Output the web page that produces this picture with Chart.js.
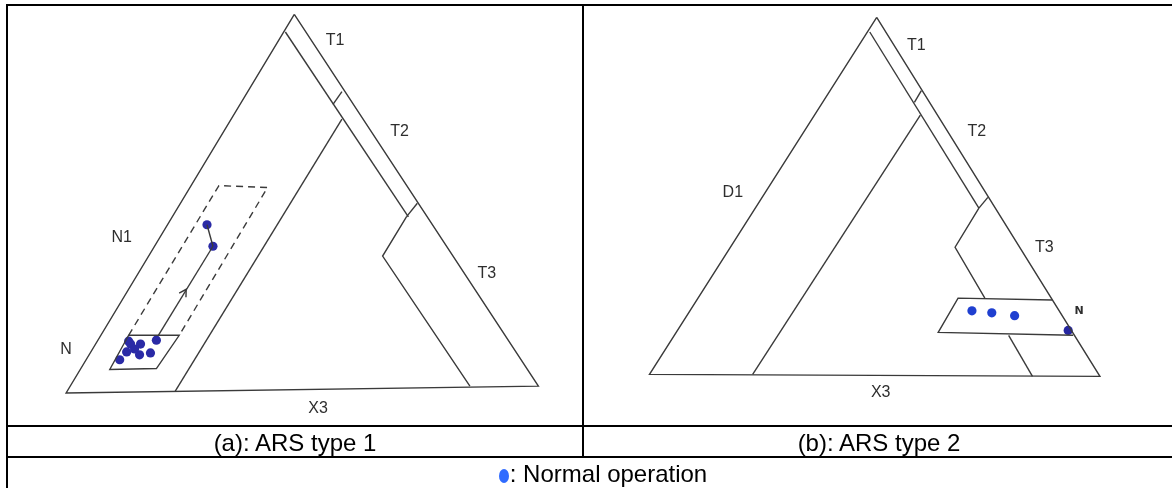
<!DOCTYPE html>
<html>
<head>
<meta charset="utf-8">
<script src="https://cdn.jsdelivr.net/npm/chart.js@4.4.1/dist/chart.umd.min.js"></script>
<style>
  body { margin: 0; background: #fff; }
  #sheet { position: relative; width: 1172px; height: 488px; overflow: hidden; background: #fff; }
  #diagram { position: absolute; left: 0; top: 0; }
  .rule { position: absolute; background: #000; }
  .cell { position: absolute; text-align: center; font-family: "Liberation Sans", Arial, sans-serif; font-size: 24px; line-height: 32px; color: #000; white-space: nowrap; }
  .dot { display: inline-block; width: 10px; height: 14px; border-radius: 50%; background: #2f6bff; vertical-align: -1px; margin-right: 1px; }
</style>
</head>
<body>
<div id="sheet">
  <canvas id="diagram" width="1172" height="425"></canvas>

  <div class="rule" style="left:6px;top:4px;width:1166px;height:2px"></div>
  <div class="rule" style="left:6px;top:4px;width:2px;height:484px"></div>
  <div class="rule" style="left:582px;top:4px;width:2px;height:454px"></div>
  <div class="rule" style="left:6px;top:425px;width:1166px;height:2px"></div>
  <div class="rule" style="left:6px;top:456px;width:1166px;height:2px"></div>

  <div class="cell" style="left:8px;top:427px;width:574px">(a): ARS type 1</div>
  <div class="cell" style="left:584px;top:427px;width:590px">(b): ARS type 2</div>
  <div class="cell" style="left:20px;top:458px;width:1166px"><span class="dot"></span>: Normal operation</div>
</div>

<script>
// drawing units = pixels of the 1172 x 425 upper band
const sheetW = 1172;
const sheetH = 425;

// (a) ARS type 1
const aOutline   = [[292, 10], [62, 397], [538, 390], [292, 10]];
const aT1Line    = [[283, 28], [407, 217]];
const aT1T2      = [[331, 102], [340, 89]];
const aN1Line    = [[340, 117], [172, 395]];
const aT2T3      = [[405, 217], [416, 203]];
const aT3Line    = [[405, 217], [381, 257], [469, 390]];
const aDashBox   = [[125, 338], [216, 185], [265, 187], [176, 338]];
const aNBox      = [[125, 338], [176, 338], [153, 372], [106, 373], [125, 338]];
const aTrend     = [[155, 338], [210, 247]];
const aLink      = [[204, 225], [210, 247]];
const aArrowTip  = [183, 291];
const aNormal    = [[204, 225], [210, 247], [116, 363], [123, 355], [125, 344], [127, 347],
                    [137, 347], [153, 343], [136, 358], [147, 356], [131, 352]];
const aLabels    = ['T1', 'T2', 'T3', 'N1', 'N', 'X3'];
const aLabelPos  = [[333, 37], [398, 130], [486, 275], [118, 238], [62, 353], [316, 413]];

// (b) ARS type 2
const bOutline   = [[879, 13], [650, 378], [1104, 380], [879, 13]];
const bT1Line    = [[872, 28], [982, 208]];
const bT1T2      = [[917, 100], [924, 88]];
const bD1Line    = [[923, 113], [754, 378]];
const bT2T3      = [[982, 208], [991, 197]];
const bT3Upper   = [[982, 208], [958, 248], [988, 300]];
const bT3Lower   = [[1012, 338], [1036, 380]];
const bNBox      = [[1056, 302], [961, 300], [941, 335], [1077, 338]];
const bNormal    = [[975, 313], [995, 315], [1018, 318]];
const bNormalEdge = [[1072, 333]];
const bLabels    = ['T1', 'T2', 'T3', 'D1', 'N', 'X3'];
const bLabelPos  = [[919, 42], [980, 130], [1048, 248], [734, 192], [1083, 313], [883, 397]];

const ink = '#3a3a3a';

function pts(list) {
  return list.map(p => ({ x: p[0], y: p[1] }));
}

function line(list, dash) {
  return {
    data: pts(list),
    showLine: true,
    borderColor: ink,
    borderWidth: 1.4,
    borderDash: dash || [],
    pointRadius: 0,
    fill: false,
    tension: 0,
    clip: false
  };
}

function dots(list, color, r) {
  return {
    data: pts(list),
    showLine: false,
    pointRadius: r,
    pointBackgroundColor: color,
    pointBorderColor: color,
    pointBorderWidth: 0,
    clip: false
  };
}

// arrow head on the trend line, wings pulled back along its direction
function arrowHead(tip, from, to) {
  const dx = to[0] - from[0], dy = to[1] - from[1];
  const len = Math.hypot(dx, dy);
  const ux = dx / len, uy = dy / len;
  const back = 7, side = 4;
  return [
    [tip[0] - ux * back + uy * side, tip[1] - uy * back - ux * side],
    tip,
    [tip[0] - ux * back - uy * side, tip[1] - uy * back + ux * side]
  ];
}

const handLabels = {
  id: 'handLabels',
  afterDatasetsDraw(chart) {
    const ctx = chart.ctx;
    const xs = chart.scales.x, ys = chart.scales.y;
    ctx.save();
    ctx.fillStyle = '#2e2e2e';
    ctx.textAlign = 'center';
    ctx.textBaseline = 'middle';
    const put = (names, pos) => names.forEach((t, i) => {
      ctx.font = (t === 'N' && pos === bLabelPos) ? 'bold 11px "DejaVu Sans"' : '16px "Liberation Sans"';
      ctx.fillText(t, xs.getPixelForValue(pos[i][0]), ys.getPixelForValue(pos[i][1]));
    });
    put(aLabels, aLabelPos);
    put(bLabels, bLabelPos);
    ctx.restore();
  }
};

new Chart(document.getElementById('diagram').getContext('2d'), {
  type: 'scatter',
  data: {
    datasets: [
      line(aOutline), line(aT1Line), line(aT1T2), line(aN1Line), line(aT2T3), line(aT3Line),
      line(aDashBox, [7, 5]), line(aNBox), line(aTrend), line(aLink),
      line(arrowHead(aArrowTip, aTrend[0], aTrend[1])),
      dots(aNormal, '#2a2aa6', 4.6),
      line(bOutline), line(bT1Line), line(bT1T2), line(bD1Line), line(bT2T3),
      line(bT3Upper), line(bT3Lower), line(bNBox),
      dots(bNormal, '#1f3fd0', 4.6),
      dots(bNormalEdge, '#2626a0', 4.6)
    ]
  },
  options: {
    responsive: false,
    animation: false,
    devicePixelRatio: 1,
    layout: { padding: 0 },
    events: [],
    scales: {
      x: { type: 'linear', min: 0, max: sheetW, display: false },
      y: { type: 'linear', min: 0, max: sheetH, reverse: true, display: false }
    },
    plugins: {
      legend: { display: false },
      tooltip: { enabled: false }
    }
  },
  plugins: [handLabels]
});
</script>
</body>
</html>
